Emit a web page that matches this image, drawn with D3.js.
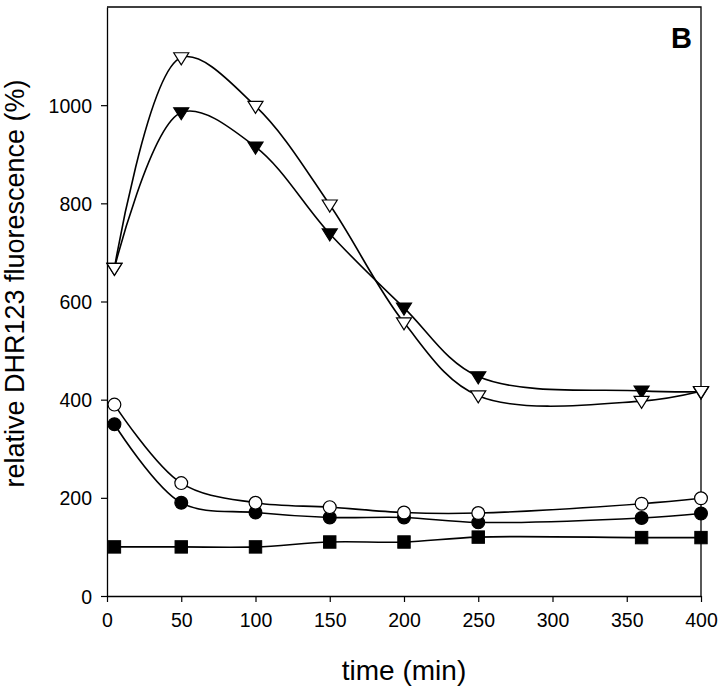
<!DOCTYPE html>
<html>
<head>
<meta charset="utf-8">
<script src="https://cdn.jsdelivr.net/npm/d3@7"></script>
<style>
  html, body { margin: 0; padding: 0; background: #fff; }
  svg { display: block; }
  text { font-family: Arial, "Liberation Sans", Helvetica, sans-serif; fill: #000; }
</style>
</head>
<body>
<svg id="chart" width="720" height="690"></svg>
<script>
// ---- data ----
const times = [5, 50, 100, 150, 200, 250, 360, 400];
const filledSquare   = [100, 100, 100, 110, 110, 120, 119, 119];
const filledCircle   = [350, 190, 170, 160, 160, 150, 159, 168];
const openCircle     = [390, 230, 190, 181, 170, 169, 188, 199];
const filledTriangle = [668, 985, 915, 738, 587, 447, 418, 416];
const openTriangle   = [668, 1097, 998, 797, 557, 408, 397, 417];
const xTicks = [0, 50, 100, 150, 200, 250, 300, 350, 400];
const yTicks = [0, 200, 400, 600, 800, 1000];
const xLabel = "time (min)";
const yLabel = "relative DHR123 fluorescence (%)";
const panelLabel = "B";

const series = [
  { name: "filledSquare", values: filledSquare, shape: "square", fill: "#000" },
  { name: "filledCircle", values: filledCircle, shape: "circle", fill: "#000" },
  { name: "openCircle", values: openCircle, shape: "circle", fill: "#fff" },
  { name: "filledTriangle", values: filledTriangle, shape: "triangle", fill: "#000" },
  { name: "openTriangle", values: openTriangle, shape: "triangle", fill: "#fff" }
];

// ---- layout ----
const svg = d3.select("#chart");
const pLeft = 107, pRight = 701, pTop = 7, pBottom = 596;

const x = d3.scaleLinear().domain([0, 400]).range([pLeft, pRight]);
const y = d3.scaleLinear().domain([0, 1200]).range([pBottom, pTop]);

// frame (top and right lines)
svg.append("path")
  .attr("d", `M${pLeft},${pTop}H${pRight}V${pBottom}`)
  .attr("fill", "none").attr("stroke", "#000").attr("stroke-width", 1.3);

// axes
const xAxis = svg.append("g").attr("transform", `translate(0,${pBottom})`)
  .call(d3.axisBottom(x).tickValues(xTicks).tickSize(6).tickSizeOuter(0).tickPadding(11).tickFormat(d3.format("d")));
const yAxis = svg.append("g").attr("transform", `translate(${pLeft},0)`)
  .call(d3.axisLeft(y).tickValues(yTicks).tickSize(6).tickSizeOuter(0).tickPadding(9).tickFormat(d3.format("d")));
[xAxis, yAxis].forEach(g => {
  g.select(".domain").attr("stroke", "#000").attr("stroke-width", 1.3);
  g.selectAll(".tick line").attr("stroke", "#000").attr("stroke-width", 1.2);
  g.selectAll(".tick text").attr("font-size", 19.5).attr("font-family", "Arial, 'Liberation Sans', sans-serif").attr("fill", "#000");
});
yAxis.selectAll(".tick text").attr("dy", "0.36em");

// axis titles
svg.append("text")
  .attr("x", (pLeft + pRight) / 2).attr("y", 680)
  .attr("text-anchor", "middle").attr("font-size", 28)
  .text(xLabel);
svg.append("text")
  .attr("transform", `translate(24,${(pTop + pBottom) / 2 - 18}) rotate(-90)`)
  .attr("text-anchor", "middle").attr("font-size", 27)
  .text(yLabel);

// panel label
svg.append("text")
  .attr("x", 692).attr("y", 48)
  .attr("text-anchor", "end").attr("font-size", 29).attr("font-weight", "bold")
  .text(panelLabel);

// lines
const line = d3.line()
  .x((d, i) => x(times[i]))
  .y(d => y(d))
  .curve(d3.curveCatmullRom.alpha(0.5));

series.forEach(s => {
  svg.append("path")
    .attr("d", line(s.values))
    .attr("fill", "none").attr("stroke", "#000").attr("stroke-width", 1.6);
});

// markers
const symbolTri = {
  draw(ctx, size) {
    // downward pointing triangle
    const w = 7.5, h = 12;
    ctx.moveTo(-w, -h * 0.4);
    ctx.lineTo(w, -h * 0.4);
    ctx.lineTo(0, h * 0.6);
    ctx.closePath();
  }
};
series.forEach(s => {
  const g = svg.append("g");
  s.values.forEach((v, i) => {
    const cx = x(times[i]), cy = y(v);
    if (s.shape === "circle") {
      g.append("circle").attr("cx", cx).attr("cy", cy).attr("r", 6.4)
        .attr("fill", s.fill).attr("stroke", "#000").attr("stroke-width", 1.2);
    } else if (s.shape === "square") {
      g.append("rect").attr("x", cx - 6.2).attr("y", cy - 6.2).attr("width", 12.4).attr("height", 12.4)
        .attr("fill", s.fill).attr("stroke", "#000").attr("stroke-width", 1);
    } else {
      g.append("path").attr("transform", `translate(${cx},${cy})`)
        .attr("d", d3.symbol(symbolTri)())
        .attr("fill", s.fill).attr("stroke", "#000").attr("stroke-width", 1.2);
    }
  });
});
</script>
</body>
</html>
